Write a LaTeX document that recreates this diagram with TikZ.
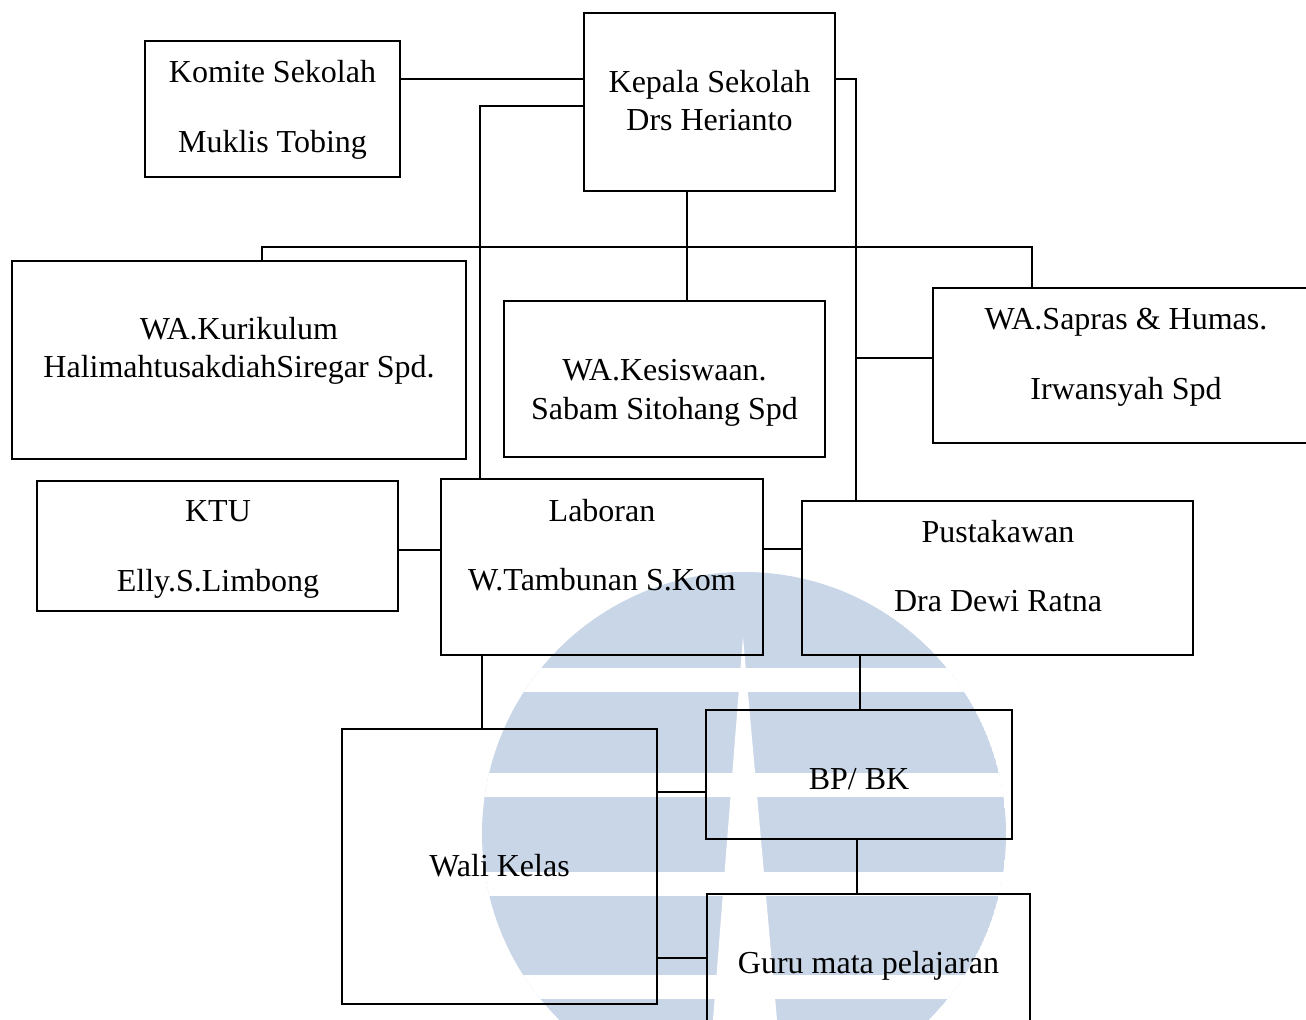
\documentclass[tikz,border=0pt]{standalone}
\usepackage{fontspec}
\setmainfont{Liberation Serif}
\usepackage{xcolor}
\definecolor{markblue}{RGB}{201, 214, 231}
\usetikzlibrary{fit,positioning}

\begin{document}
\begin{tikzpicture}[x=0.5pt, y=-0.5pt,
    box/.style={draw, line width=0.9pt, inner sep=0pt},
    txt/.style={anchor=base, align=center, inner sep=0pt, font=\fontsize{16}{19.25}\selectfont},
    link/.style={line width=0.9pt}]
    \useasboundingbox (0,0) rectangle (1306,1020);
    \clip (0,0) rectangle (1306,1020);

    % Watermark in the background
    \begin{scope}
        \clip (744,834) circle (262);
        \fill[markblue] (744,834) circle (262);
        \foreach \y in {668, 773, 872, 975} {
            \fill[white] (470,\y) rectangle (1020,\y+24);
        }
        \fill[white] (743,637) -- (713,1020) -- (777,1020) -- cycle;
    \end{scope}

    % Boxes
    \node[box, fit={(145,41) (400,177)}] (komite) {};
    \node[box, fit={(584,13) (835,191)}] (kepala) {};
    \node[box, fit={(12,261) (466,459)}] (kurikulum) {};
    \node[box, fit={(504,301) (825,457)}] (kesiswaan) {};
    \node[box, fit={(933,288) (1318,443)}] (sapras) {};
    \node[box, fit={(37,481) (398,611)}] (ktu) {};
    \node[box, fit={(441,479) (763,655)}] (laboran) {};
    \node[box, fit={(802,501) (1193,655)}] (pustaka) {};
    \node[box, fit={(706,710) (1012,839)}] (bpbk) {};
    \node[box, fit={(342,729) (657,1004)}] (wali) {};
    \node[box, fit={(707,894) (1030,1040)}] (guru) {};

    % Names in the boxes (placed at the baseline of the last line)
    \node[txt] (komite-t) at (272.5,152.5) {Komite Sekolah\\[15.5pt]Muklis Tobing};
    \node[txt] (kepala-t) at (709.5,131) {Kepala Sekolah\\Drs Herianto};
    \node[txt] (kurikulum-t) at (239,378) {WA.Kurikulum\\HalimahtusakdiahSiregar Spd.};
    \node[txt] (kesiswaan-t) at (664.5,419.5) {WA.Kesiswaan.\\Sabam Sitohang Spd};
    \node[txt] (sapras-t) at (1126,399.5) {WA.Sapras \& Humas.\\[15.5pt]Irwansyah Spd};
    \node[txt] (ktu-t) at (218,591.5) {KTU\\[15.5pt]Elly.S.Limbong};
    \node[txt] (laboran-t) at (602,591) {Laboran\\[15.5pt]W.Tambunan S.Kom};
    \node[txt] (pustaka-t) at (998,612) {Pustakawan\\[15.5pt]Dra Dewi Ratna};
    \node[txt] (bpbk-t) at (859,789) {BP/ BK};
    \node[txt] (wali-t) at (499.5,876.5) {Wali Kelas};
    \node[txt] (guru-t) at (868.5,973.5) {Guru mata pelajaran};

    % Connectors
    \coordinate (bus) at (687,247);
    \draw[link] (komite.east |- 0,79) -- (kepala.west |- 0,79);
    \draw[link] (kepala.west |- 0,106) -| (laboran.north -| 480,0);
    \draw[link] (kepala.east |- 0,79) -| (pustaka.north -| 856,0);
    \draw[link] (sapras.west |- 0,358) -- (856,358);
    \draw[link] (kepala.south -| bus) -- (kesiswaan.north -| bus);
    \draw[link] (kurikulum.north -| 262,0) |- (bus) -| (sapras.north -| 1032,0);
    \draw[link] (ktu.east |- 0,550) -- (laboran.west |- 0,550);
    \draw[link] (laboran.east |- 0,549) -- (pustaka.west |- 0,549);
    \draw[link] (laboran.south -| 482,0) -- (wali.north -| 482,0);
    \draw[link] (pustaka.south -| 860,0) -- (bpbk.north -| 860,0);
    \draw[link] (wali.east |- 0,792) -- (bpbk.west |- 0,792);
    \draw[link] (bpbk.south -| 857,0) -- (guru.north -| 857,0);
    \draw[link] (wali.east |- 0,958) -- (guru.west |- 0,958);
\end{tikzpicture}
\end{document}
